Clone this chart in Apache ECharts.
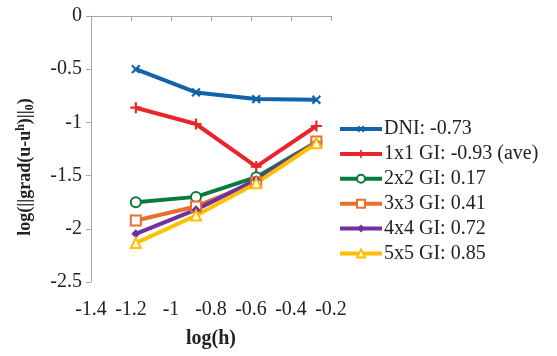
<!DOCTYPE html>
<html><head><meta charset="utf-8">
<script src="https://cdn.jsdelivr.net/npm/echarts@6/dist/echarts.min.js"></script>
<style>html,body{margin:0;padding:0;background:#fff}#c{width:557px;height:356px}</style>
</head><body><div id="c"></div>
<script>
var logH = [-1.176, -0.875, -0.574, -0.273];
var seriesNames = ['DNI: -0.73', '1x1 GI: -0.93 (ave)', '2x2 GI: 0.17', '3x3 GI: 0.41', '4x4 GI: 0.72', '5x5 GI: 0.85'];
var dni = [-0.50, -0.718, -0.781, -0.787];
var gi1 = [-0.862, -1.015, -1.415, -1.034];
var gi2 = [-1.75, -1.70, -1.515, -1.185];
var gi3 = [-1.922, -1.79, -1.562, -1.18];
var gi4 = [-2.047, -1.82, -1.54, -1.19];
var gi5 = [-2.134, -1.875, -1.571, -1.196];
var xTicks = [-1.4, -1.2, -1, -0.8, -0.6, -0.4, -0.2];
var yTicks = [-2.5, -2, -1.5, -1, -0.5, 0];

var colors = ['#1262AC', '#E8262A', '#0A7A3E', '#E8702D', '#7030A0', '#FFC000'];
var plusPath = 'path://M4,0 L6,0 L6,4 L10,4 L10,6 L6,6 L6,10 L4,10 L4,6 L0,6 L0,4 L4,4 Z';
var symbols = [plusPath, plusPath, 'emptyCircle', 'emptyRect', 'diamond', 'emptyTriangle'];
var rot = [45, 0, 0, 0, 0, 0];
var sizes = [11, 11, 10, 10, 9, 10];
var allData = [dni, gi1, gi2, gi3, gi4, gi5];
var font = 'Liberation Serif';

var series = allData.map(function (vals, i) {
  return {
    name: seriesNames[i], type: 'line',
    data: vals.map(function (v, j) { return [logH[j], v]; }),
    symbol: symbols[i], symbolRotate: rot[i], symbolSize: sizes[i],
    showAllSymbol: true,
    lineStyle: { color: colors[i], width: 4 },
    itemStyle: { color: colors[i], borderColor: colors[i], borderWidth: (symbols[i].indexOf('empty') === 0 ? 1.5 : 0) },
    emphasis: { disabled: true }, animation: false
  };
});

var chart = echarts.init(document.getElementById('c'));
chart.setOption({
  animation: false,
  color: colors,
  grid: { left: 91, right: 226, top: 16, bottom: 74, containLabel: false },
  legend: {
    orient: 'vertical', left: 338, top: 119, padding: 0, itemWidth: 42, itemHeight: 10, itemGap: 4.9,
    data: seriesNames,
    lineStyle: { width: 4 },
    textStyle: { fontFamily: font, fontSize: 20, lineHeight: 20, color: '#222', padding: [0, 0, 0, -3] }
  },
  xAxis: {
    type: 'value', min: -1.4, max: -0.2, interval: 0.2,
    name: 'log(h)', nameLocation: 'middle', nameGap: 47,
    nameTextStyle: { fontFamily: font, fontSize: 20, fontWeight: 'bold', color: '#222' },
    axisLine: { show: true, lineStyle: { color: '#A6A6A6', width: 1 } },
    axisTick: { show: true, inside: false, length: 5, lineStyle: { color: '#A6A6A6' } },
    splitLine: { show: false },
    axisLabel: { fontFamily: font, fontSize: 20, color: '#222', margin: 18,
      formatter: function (v) { return String(+v.toFixed(1)); } }
  },
  yAxis: {
    type: 'value', min: -2.5, max: 0, interval: 0.5,
    name: '{a|log(||grad(u-u}{s|h}{a|)||}{b|0}{a|)}', nameLocation: 'middle', nameGap: 55, nameRotate: 90,
    nameTextStyle: { fontFamily: font, fontSize: 18, fontWeight: 'bold', color: '#222', padding: [0, 36, 0, 0],
      rich: {
        a: { fontFamily: font, fontSize: 18, fontWeight: 'bold', color: '#222' },
        s: { fontFamily: font, fontSize: 12, fontWeight: 'bold', color: '#222', padding: [0, 0, 9, 0] },
        b: { fontFamily: font, fontSize: 12, fontWeight: 'bold', color: '#222', padding: [9, 0, 0, 0] }
      } },
    axisLine: { show: true, lineStyle: { color: '#A6A6A6', width: 1 } },
    axisTick: { show: true, inside: false, length: 5, lineStyle: { color: '#A6A6A6' } },
    splitLine: { show: false },
    axisLabel: { fontFamily: font, fontSize: 20, color: '#222', margin: 9,
      formatter: function (v) { return String(+v.toFixed(1)); } }
  },
  series: series
});
</script></body></html>
